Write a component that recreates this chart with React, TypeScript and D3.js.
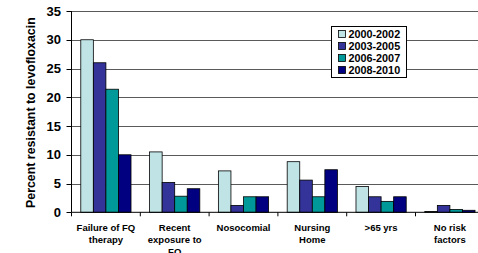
import React from 'react';
import * as d3 from 'd3';

const categories = ['Failure of FQ therapy', 'Recent exposure to FQ', 'Nosocomial', 'Nursing Home', '>65 yrs', 'No risk factors'];
const categoryLines = [
  ['Failure of FQ', 'therapy'],
  ['Recent', 'exposure to', 'FQ'],
  ['Nosocomial'],
  ['Nursing', 'Home'],
  ['>65 yrs'],
  ['No risk', 'factors'],
];
const seriesNames = ['2000-2002', '2003-2005', '2006-2007', '2008-2010'];
const seriesColors = ['#c0e4e6', '#333399', '#009999', '#000080'];
const values = [
  [30, 10.5, 7.2, 8.8, 4.5, 0.15],
  [26, 5.2, 1.2, 5.6, 2.7, 1.2],
  [21.4, 2.8, 2.7, 2.7, 1.9, 0.5],
  [10, 4.1, 2.7, 7.4, 2.7, 0.35],
];
const yTicks = [0, 5, 10, 15, 20, 25, 30, 35];

const W = 478, H = 253;
const left = 71.5, top = 11, bottom = 212.3;
const bandW = 68.8;
const font = 'Arial, "Liberation Sans", sans-serif';

const App = () => {
  const x = d3.scaleBand<string>()
    .domain(categories)
    .range([left, left + bandW * categories.length])
    .paddingInner(0.27)
    .paddingOuter(0.135);
  const inner = d3.scaleBand<string>()
    .domain(seriesNames)
    .range([0, x.bandwidth()]);
  const y = d3.scaleLinear().domain([0, 35]).range([bottom, top]);
  // band boundaries for x tick marks
  const bounds = d3.range(categories.length + 1).map(i => left + i * bandW);

  return (
    <svg width={W} height={H} style={{ position: 'absolute', left: 0, top: 0, background: '#fff' }} fontFamily={font}>
      {/* grid */}
      {yTicks.filter(t => t > 0).map(t => (
        <line key={t} x1={left} x2={W} y1={Math.round(y(t)) + 0.5} y2={Math.round(y(t)) + 0.5} stroke="#5a5a5a" strokeWidth={1} />
      ))}
      {/* bars */}
      {seriesNames.map((s, si) => categories.map((c, ci) => {
        const x0 = (x(c) as number) + (inner(s) as number);
        return (
          <rect key={s + c} x={x0} y={y(values[si][ci])} width={inner.bandwidth()} height={bottom - y(values[si][ci])}
            fill={seriesColors[si]} stroke="#000" strokeWidth={0.8} />
        );
      }))}
      {/* axes */}
      <line x1={left} x2={left} y1={top} y2={bottom} stroke="#000" />
      <line x1={left} x2={W} y1={bottom} y2={bottom} stroke="#000" />
      {yTicks.map(t => (
        <g key={t}>
          <line x1={left - 5} x2={left} y1={Math.round(y(t)) + 0.5} y2={Math.round(y(t)) + 0.5} stroke="#000" />
          <text x={61} y={y(t)} dy="0.36em" textAnchor="end" fontSize={13} fontWeight="bold">{t}</text>
        </g>
      ))}
      {bounds.map((b, i) => (
        <line key={i} x1={b} x2={b} y1={bottom} y2={bottom + 4} stroke="#000" />
      ))}
      {categories.map((c, ci) => (
        <text key={c} x={(x(c) as number) + x.bandwidth() / 2} y={230.5} textAnchor="middle" fontSize={9.5} fontWeight="bold">
          {categoryLines[ci].map((l, li) => (
            <tspan key={li} x={(x(c) as number) + x.bandwidth() / 2} dy={li === 0 ? 0 : 12}>{l}</tspan>
          ))}
        </text>
      ))}
      <text transform={`translate(34.5,${(top + bottom) / 2 + 1}) rotate(-90)`} textAnchor="middle" fontSize={12.4} fontWeight="bold">
        Percent resistant to levofloxacin
      </text>
      {/* legend */}
      <rect x={331.5} y={26.5} width={75} height={51} fill="#fff" stroke="#000" strokeWidth={1} />
      {seriesNames.map((s, si) => (
        <g key={s}>
          <rect x={338.5} y={30.5 + si * 12} width={7} height={7} fill={seriesColors[si]} stroke="#000" strokeWidth={0.8} />
          <text x={348.5} y={34 + si * 12} dy="0.36em" fontSize={10.8} fontWeight="bold">{s}</text>
        </g>
      ))}
    </svg>
  );
};

export default App;
